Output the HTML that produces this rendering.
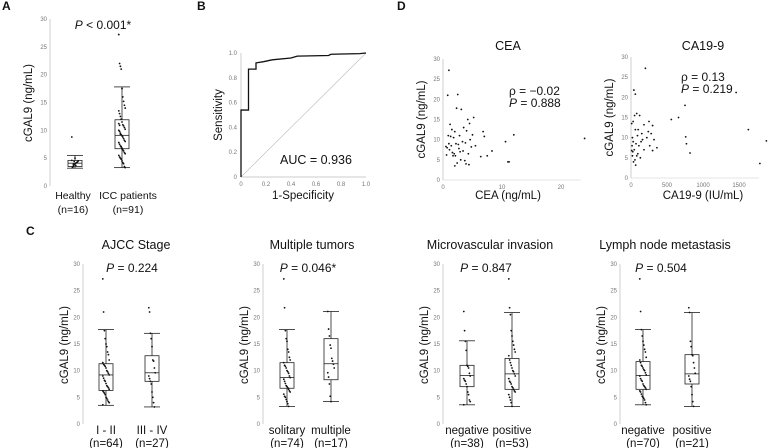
<!DOCTYPE html>
<html><head><meta charset="utf-8">
<style>
html,body{margin:0;padding:0;background:#fff;}
svg{display:block;font-family:"Liberation Sans",Arial,sans-serif;}
.tk{font-size:6px;fill:#777;}
.lab{font-size:11.5px;fill:#111;}
.labA{font-size:10.5px;fill:#111;}
.ttl{font-size:12.5px;fill:#111;}
.pl{font-size:12px;fill:#111;}
.let{font-size:12px;font-weight:bold;fill:#111;}
</style></head>
<body>
<svg id="fig" width="774" height="448" viewBox="0 0 774 448">
<text class="let" x="2" y="10">A</text>
<text class="let" x="197" y="10">B</text>
<text class="let" x="397" y="10">D</text>
<text class="let" x="26" y="235">C</text>
</svg>
<script>
// ---------- data ----------
const yTicks = [0,5,10,15,20,25,30];
const boxCatsA = ["Healthy","ICC patients"];
const boxNA = ["(n=16)","(n=91)"];
const boxStatsA = [[3.2,3.5,4.1,4.6,5.5],[3.3,6.7,9.1,11.9,17.8]];
const ptsA = [[8.8,3.3,3.6,3.8,4.0,4.1,4.2,4.3,4.5,4.6,3.4,3.9,4.4,5.0,3.7,4.2],
 [27.2,22,21.5,21,17.5,16,15.2,14.5,14,13.5,13,12.5,12,11.5,11,10.8,10.5,10.2,10,9.8,9.5,9.2,9,8.8,8.5,8.2,8,7.8,7.5,7.2,7,6.8,6.5,6.3,6,5.8,5.5,5.2,5,4.8,4.5,4.2,4,3.5,3.3,11.2,10.9,9.3,7.1,6.7]];
const rocX = [0,0,0.06,0.06,0.12,0.12,0.18,0.25,0.4,0.45,0.7,0.72,0.95,1];
const rocY = [0,0.54,0.54,0.87,0.87,0.92,0.93,0.945,0.96,0.975,0.98,0.99,0.995,1];
const rocTicks = [0,0.2,0.4,0.6,0.8,1.0];
const ceaX = [1,0.8,2.5,2.3,3.1,4.2,5.2,4.5,1.2,1.5,2,0.9,3.5,4,2.8,1.8,6.8,7,5,4.6,3.3,2.2,1.4,0.7,1.1,2.6,3.8,2.9,4.8,1.9,10.6,11,11.2,12,7.5,8.3,24,6.4,2.1,3,1.6,0.6,2.4,3.7,4.3,1.3,5.5,2.7,3.4,1.7,0.5,2,3.9,4.4,1];
const ceaY = [27.2,21,21.2,17.8,17.5,15,15.5,14,13.8,12.5,12,11,13,12.2,11,10.5,12,10.8,11.2,10,9.5,9,8.5,8,7.5,8.8,9.2,7,8.2,6.5,9.5,4.5,4.5,11.2,6,7.2,10.3,5.8,6,5,6.8,6.2,4.2,4.8,6.5,10.8,8.5,7.8,7.2,6,8.3,3.5,4,3.8,9];
const caX = [20,40,60,80,120,200,300,250,180,100,50,30,10,150,280,320,360,560,660,750,760,770,820,1460,1630,1790,1880,60,90,140,220,30,15,70,110,45,25,180,260,300,130,80,55,35,95,10,160,240,20,65];
const caY = [10,21.8,20.8,16,15.5,27.2,13,14,13.2,12,15.5,14,13.5,11,11,9.5,7.5,14.5,15,18,10.2,8.5,6.2,21.2,12,3.6,9.2,12,10.5,9,10,9,8,8.5,8,7,6.5,7,8,6.8,5,5.5,4.5,4,6,6.8,9.5,11.5,5.5,3.2];
const cTitles = ["AJCC Stage","Multiple tumors","Microvascular invasion","Lymph node metastasis"];
const cP = ["0.224","0.046*","0.847","0.504"];
const cCats = [["I - II","III - IV"],["solitary","multiple"],["negative","positive"],["negative","positive"]];
const cN = [["(n=64)","(n=27)"],["(n=74)","(n=17)"],["(n=38)","(n=53)"],["(n=70)","(n=21)"]];
const cStats = [
 [[3.5,6.3,9.2,11.3,17.7],[3.2,8.0,9.6,12.8,17.0]],
 [[3.3,6.7,8.7,11.5,17.7],[4.2,8.3,11.3,16.0,21.1]],
 [[3.6,7.0,9.1,11.0,15.6],[3.3,6.5,9.4,12.3,20.9]],
 [[3.6,6.5,9.1,11.7,17.7],[3.3,7.5,9.4,13.0,20.9]]];
const cPts = [
 [[27.2,21,17.5,16,15,14.5,13.5,13,12,11.5,11.2,11,10.8,10.5,10,9.8,9.5,9.2,9,8.6,8.2,8,7.6,7.2,7,6.8,6.5,6.2,6,5.8,5.5,5,4.8,4.5,4.2,4,3.6],
  [21.8,21,17,16,14.5,12,11.8,10.5,9.6,9,8.5,8,7.5,6,5,4,3.2]],
 [[27.2,21.8,17.5,16,15.5,14,13.5,12.5,12,11.5,11,10.8,10.5,10,9.8,9.5,9,8.7,8.4,8,7.6,7.2,7,6.8,6.5,6.2,6,5.6,5.2,5,4.6,4.2,3.8,3.3],
  [21.1,17.8,16.5,14.8,14.2,12.3,11.8,11.2,10.5,9.6,8.8,7.5,5.2,4.2]],
 [[21.1,17.5,15.5,13.8,11,10.8,10.5,9.5,9,8.5,8.2,8,7.5,7,6,5.5,4.5,4.2,3.6],
  [27.2,21.8,20.5,17.5,16.5,15.5,14.8,14,13.5,12.8,12,11.5,11,10.5,10,9.8,9.4,9,8.5,8,7.8,7.5,7,6.8,6.5,6.2,6,5.5,5,4.5,4,3.3]],
 [[27.2,21.1,17.7,16.5,15.5,14.8,14,13.5,12.5,12,11.5,11,10.8,10.5,10.2,10,9.6,9.2,9,8.5,8.2,8,7.5,7.2,7,6.8,6.5,6.2,6,5.6,5.2,5,4.8,4.5,4,3.6],
  [21.8,20.9,15.5,14.5,13,12.8,11.5,10.5,9.5,9,8.4,8,7,5.5,4.2,3.3]]];

// ---------- helpers ----------
const svg = document.getElementById('fig');
const NS = 'http://www.w3.org/2000/svg';
function mk(tag, at, txt){const e=document.createElementNS(NS,tag);for(const k in at)e.setAttribute(k,at[k]);if(txt!==undefined)e.textContent=txt;svg.appendChild(e);return e;}
function line(x1,y1,x2,y2,st,w){return mk('line',{x1,y1,x2,y2,stroke:st||'#222','stroke-width':w||0.8});}

function yAxis(ax, y0, y30, name){
  const sy=v=>y0+(y30-y0)*v/30;
  const a=line(ax,y30,ax,y0,'#bbb',0.7);
  
  
  yTicks.forEach(t=>{
    const tx=mk('text',{class:'tk',x:ax-3,y:sy(t)+2,'text-anchor':'end'},String(t));
    
    
  });
  return sy;
}
function yLabel(x,y,txt,name){
  const t=mk('text',{class:'lab',x:0,y:0,'text-anchor':'middle',transform:`translate(${x},${y}) rotate(-90)`},txt);
  
  
}
function box(cx,sy,st,pts,name){
  const [mn,q1,md,q3,mx]=st, hw=7, cw=8;
  const g=[line(cx,sy(mx),cx,sy(q3)),line(cx,sy(q1),cx,sy(mn)),line(cx-cw,sy(mx),cx+cw,sy(mx)),line(cx-cw,sy(mn),cx+cw,sy(mn))];
  const r=mk('rect',{x:cx-hw,y:sy(q3),width:2*hw,height:sy(q1)-sy(q3),fill:'none',stroke:'#222','stroke-width':0.8});
  
  
  const m=line(cx-hw,sy(md),cx+hw,sy(md));
  
  
  g.forEach(l=>{});
  pts.forEach((v,i)=>{
    const off=((i*37)%9-4)*0.8;
    const c=mk('circle',{cx:cx+off,cy:sy(v),r:0.9,fill:'#111'});
    
    
  });
}
function txt(x,y,s,cls,name,anchor){
  const t=mk('text',{class:cls,x,y,'text-anchor':anchor||'middle'},s);
  
  
  return t;
}
function pText(x,y,val,name){
  const t=mk('text',{class:'pl',x,y,'text-anchor':'middle'});
  
  
  const a=document.createElementNS(NS,'tspan');a.setAttribute('font-style','italic');a.textContent='P';t.appendChild(a);
  const b=document.createElementNS(NS,'tspan');b.textContent=val;t.appendChild(b);
}

// ---------- panel A ----------
{
  const sy=yAxis(50,186,19,'panel-a');
  yLabel(32,103,'cGAL9 (ng/mL)','panel-a-y-title');
  const cxs=[75,122];
  const lx=[73,128];
  boxCatsA.forEach((c,i)=>{
    box(cxs[i],sy,boxStatsA[i],ptsA[i],'panel-a-'+i);
    txt(lx[i],199,c,'labA','panel-a-x-label');
    txt(lx[i],213,boxNA[i],'labA','panel-a-x-n');
  });
  pText(103,29,' < 0.001*','panel-a-p-value');
}

// ---------- panel B ----------
{
  const x0=241,x1=366,y0=177,y1=53;
  const sx=v=>x0+(x1-x0)*v, sy=v=>y0+(y1-y0)*v;
  const ax=line(x0,y0,x1,y0,'#bbb',0.7);
  const ay=line(x0,y0,x0,y1,'#bbb',0.7);
  const d=line(sx(0),sy(0),sx(1),sy(1),'#bbb',0.6);
  rocTicks.forEach(t=>{
    txt(sx(t),y0+9,t===0?'0':t.toFixed(1),'tk','roc-x-tick');
    txt(x0-4,sy(t)+2,t===0?'0':t.toFixed(1),'tk','roc-y-tick','end');
  });
  const p=mk('path',{d:rocX.map((v,i)=>(i?'L':'M')+sx(v)+','+sy(rocY[i])).join(''),fill:'none',stroke:'#111','stroke-width':1.3});
  
  
  txt(303,199,'1-Specificity','lab','roc-x-title');
  yLabel(222,115,'Sensitivity','roc-y-title');
  txt(316,164,'AUC = 0.936','ttl','auc-label');
}

// ---------- panel D ----------
function scatter(ox,y0,y30,xmax,xPx,xt,xs,ys,title,tcx,xlab,rho,pv,tx,ty,name){
  const sy=yAxis(ox,y0,y30,name);
  const sx=v=>ox+(xPx-ox)*v/xmax;
  const a=line(ox,y0,sx(xt[xt.length-1])+20,y0,'#ccc',0.6);
  xt.forEach(t=>txt(sx(t),y0+9,String(t),'tk',name+'-x-tick'));
  xs.forEach((v,i)=>{
    const c=mk('circle',{cx:sx(v),cy:sy(ys[i]),r:0.9,fill:'#111'});
    
    
  });
  txt(tcx,50,title,'ttl',name+'-title');
  txt(tcx,199,xlab,'lab',name+'-x-title');
  yLabel(ox-18,(y0+y30)/2,'cGAL9 (ng/mL)',name+'-y-title');
  txt(tx,ty,'ρ = '+rho,'pl',name+'-rho','start');
  const t=mk('text',{class:'pl',x:tx,y:ty+12});
  
  
  const s1=document.createElementNS(NS,'tspan');s1.setAttribute('font-style','italic');s1.textContent='P';t.appendChild(s1);
  const s2=document.createElementNS(NS,'tspan');s2.textContent=' = '+pv;t.appendChild(s2);
}
scatter(443,180,59,10,502,[0,10,20],ceaX,ceaY,'CEA',508,'CEA (ng/mL)','−0.02','0.888',509,95,'cea');
scatter(631,178,57,500,667,[0,500,1000,1500],caX,caY,'CA19-9',703,'CA19-9 (IU/mL)','0.13','0.219',681,81,'ca199');

// ---------- panel C ----------
const cAxisX=[83,263,443,620];
const cCx=[[106,152],[287,331],[467,512],[643,692]];
const cTitleX=[136,312,490,665];
cTitles.forEach((tt,k)=>{
  const nm='panel-c-'+(k+1);
  const sy=yAxis(cAxisX[k],424,264,nm);
  yLabel(cAxisX[k]-15,345,'cGAL9 (ng/mL)',nm+'-y-title');
  txt(cTitleX[k],249,tt,'ttl',nm+'-title');
  pText(cTitleX[k]-4,272,' = '+cP[k],nm+'-p-value');
  [0,1].forEach(i=>{
    box(cCx[k][i],sy,cStats[k][i],cPts[k][i],nm+'-'+i);
    txt(cCx[k][i],434,cCats[k][i],'lab',nm+'-x-label');
    txt(cCx[k][i],447,cN[k][i],'lab',nm+'-x-n');
  });
});
</script>
</body></html>
